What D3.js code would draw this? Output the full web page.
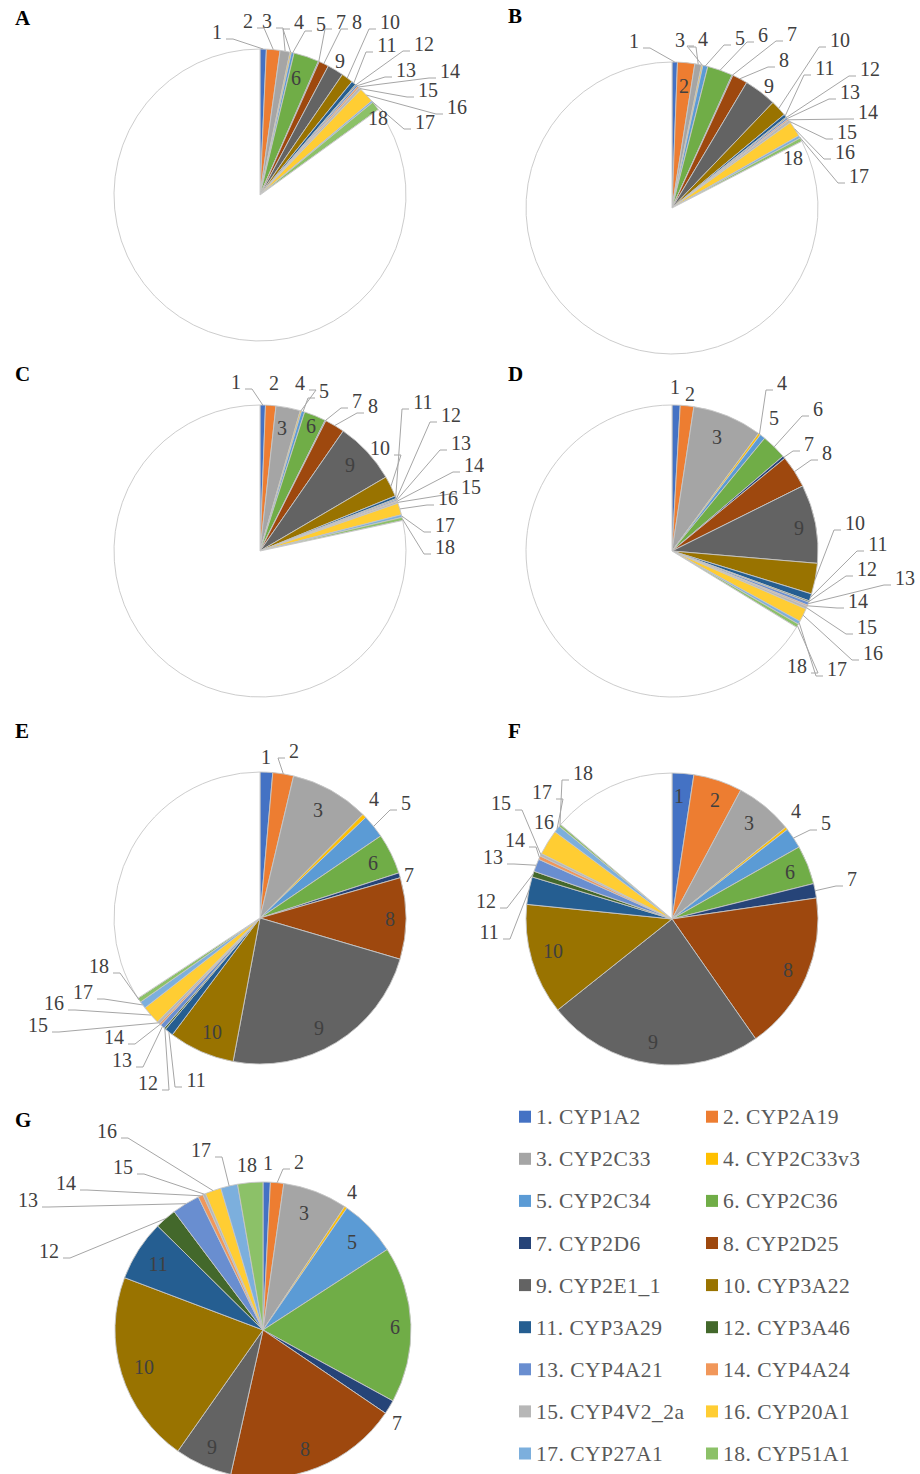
<!DOCTYPE html>
<html>
<head>
<meta charset="utf-8">
<script src="https://cdn.jsdelivr.net/npm/d3@7"></script>
<style>
  body { margin: 0; background: #fff; }
  svg { display: block; }
</style>
</head>
<body>
<svg id="chart" width="920" height="1474"></svg>
<script>
// CYP isoform names, in legend / slice order
const categories = [
  "CYP1A2", "CYP2A19", "CYP2C33", "CYP2C33v3", "CYP2C34", "CYP2C36",
  "CYP2D6", "CYP2D25", "CYP2E1_1", "CYP3A22", "CYP3A29", "CYP3A46",
  "CYP4A21", "CYP4A24", "CYP4V2_2a", "CYP20A1", "CYP27A1", "CYP51A1"
];

const panelNames = ["A", "B", "C", "D", "E", "F", "G"];

// Percentage share of each isoform per panel (remainder is the unlabeled white slice)
const shareA = [0.7, 1.5, 1.1, 0.15, 0.3, 2.8, 0.1, 1.1, 1.8, 1.3, 0.5, 0.1, 0.2, 0.2, 0.3, 1.7, 0.2, 1.0];
const shareB = [0.6, 1.9, 0.75, 0.15, 0.55, 2.8, 0.1, 1.7, 3.6, 1.8, 0.35, 0.1, 0.2, 0.15, 0.3, 1.7, 0.3, 0.4];
const shareC = [0.6, 1.15, 2.7, 0.15, 0.35, 2.4, 0.1, 2.2, 6.9, 2.3, 0.3, 0.1, 0.15, 0.1, 0.2, 1.3, 0.3, 0.35];
const shareD = [0.9, 1.5, 7.7, 0.25, 0.6, 2.8, 0.3, 3.6, 8.7, 3.4, 0.8, 0.15, 0.35, 0.15, 0.3, 1.5, 0.35, 0.4];
const shareE = [1.4, 2.3, 8.75, 0.45, 2.6, 4.5, 0.55, 9.0, 23.4, 7.3, 0.95, 0.2, 0.5, 0.2, 0.3, 2.05, 0.8, 0.5];
const shareF = [2.4, 5.4, 6.4, 0.3, 2.3, 4.3, 1.6, 17.6, 24.0, 12.3, 3.05, 0.65, 1.4, 0.4, 0.3, 2.8, 0.75, 0.25];
const shareG = [0.8, 1.45, 7.05, 0.3, 6.25, 17.1, 1.55, 19.0, 6.25, 21.0, 6.65, 2.35, 3.05, 0.55, 0.3, 1.75, 1.85, 2.75];

const panelShares = [shareA, shareB, shareC, shareD, shareE, shareF, shareG];

// ---- styling / layout ----
const palette = [
  "#4472C4", "#ED7D31", "#A5A5A5", "#FFC000", "#5B9BD5", "#70AD47",
  "#264478", "#9E480E", "#636363", "#997300", "#255E91", "#43682B",
  "#698ED0", "#F1975A", "#B7B7B7", "#FFCD33", "#7CAFDD", "#8CC168"
];

const serif = "'Liberation Serif', 'Times New Roman', Times, serif";

const pieLayout = [
  { cx: 260, cy: 195,  r: 146, lx: 15,  ly: 25 },
  { cx: 672, cy: 208,  r: 146, lx: 508, ly: 23 },
  { cx: 260, cy: 551,  r: 146, lx: 15,  ly: 381 },
  { cx: 672, cy: 551,  r: 146, lx: 508, ly: 381 },
  { cx: 260, cy: 918,  r: 146, lx: 15,  ly: 738 },
  { cx: 672, cy: 919,  r: 146, lx: 508, ly: 738 },
  { cx: 263, cy: 1330, r: 148, lx: 15,  ly: 1127 }
];

// data-label placement relative to each pie centre (label 1..18)
const labelOffsets = [
  [[-43,-163],[-12,-174],[7,-174],[39,-173],[61,-171],[36,-117],[81,-173],[97,-173],[80,-134],
   [130,-173],[127,-150],[164,-151],[146,-125],[190,-124],[168,-105],[197,-88],[165,-73],[118,-77]],
  [[-38,-167],[12,-122],[8,-168],[31,-169],[68,-170],[91,-173],[120,-174],[112,-148],[97,-122],
   [168,-168],[153,-140],[198,-139],[178,-116],[196,-96],[175,-76],[173,-56],[187,-32],[121,-50]],
  [[-24,-169],[14,-168],[22,-123],[40,-168],[64,-160],[51,-125],[97,-150],[113,-145],[90,-86],
   [120,-103],[163,-149],[191,-136],[201,-108],[214,-86],[211,-64],[188,-53],[185,-26],[185,-4]],
  [[3,-164],[18,-157],[45,-114],[110,-168],[102,-133],[146,-142],[137,-107],[155,-98],[127,-23],
   [183,-28],[206,-7],[195,18],[233,27],[186,50],[195,76],[201,102],[165,118],[125,115]],
  [[6,-161],[34,-167],[58,-108],[114,-119],[146,-115],[113,-55],[149,-43],[130,1],[59,110],
   [-48,114],[-64,162],[-112,165],[-138,142],[-146,119],[-222,107],[-206,85],[-177,74],[-161,48]],
  [[7,-123],[43,-119],[77,-96],[124,-108],[154,-96],[118,-47],[180,-40],[116,51],[-19,123],
   [-119,32],[-183,13],[-186,-18],[-179,-62],[-157,-79],[-171,-116],[-128,-97],[-130,-127],[-89,-146]],
  [[5,-167],[36,-168],[41,-117],[89,-138],[89,-88],[132,-3],[134,93],[42,119],[-51,117],
   [-119,37],[-105,-66],[-214,-79],[-235,-130],[-197,-147],[-140,-163],[-156,-199],[-62,-180],[-16,-165]]
];

const labelFont = 20;
const svg = d3.select("#chart");

const pie = d3.pie().sort(null).value(d => d.value);

panelShares.forEach((shares, p) => {
  const L = pieLayout[p];
  const rows = shares.map((v, i) => ({ key: i, name: categories[i], value: v, color: palette[i] }));
  const total = d3.sum(shares);
  const rest = 100 - total;
  if (rest > 0.01) rows.push({ key: -1, name: "other", value: rest, color: "#ffffff" });

  const arcs = pie(rows);
  const arc = d3.arc().innerRadius(0).outerRadius(L.r);

  const g = svg.append("g").attr("transform", `translate(${L.cx},${L.cy})`);

  g.selectAll("path.slice")
    .data(arcs)
    .join("path")
    .attr("class", "slice")
    .attr("d", arc)
    .attr("fill", d => d.data.color)
    .attr("stroke", "#c6c6c6")
    .attr("stroke-width", 0.9)
    .attr("stroke-linejoin", "round");

  // data labels + leader lines
  const labelled = arcs.filter(d => d.data.key >= 0);
  labelled.forEach(d => {
    const i = d.data.key;
    const [ox, oy] = labelOffsets[p][i];
    const text = String(i + 1);
    const w = text.length * labelFont * 0.5;
    const mid = (d.startAngle + d.endAngle) / 2;
    const ax = Math.sin(mid) * L.r;
    const ay = -Math.cos(mid) * L.r;
    const distCentre = Math.hypot(ox, oy);
    const distAnchor = Math.hypot(ox - ax, oy - ay);
    if (distCentre > L.r && distAnchor > 24) {
      const base = oy + 7;
      const side = ox >= ax ? -1 : 1;
      const tx = ox + side * (w / 2 + 4);
      const ex = tx + side * 7;
      g.append("polyline")
        .attr("points", [[ax, ay], [ex, base], [tx, base]].map(q => q.join(",")).join(" "))
        .attr("fill", "none")
        .attr("stroke", "#a6a6a6")
        .attr("stroke-width", 1);
    }
    g.append("text")
      .attr("x", ox)
      .attr("y", oy + 7)
      .attr("text-anchor", "middle")
      .attr("font-family", serif)
      .attr("font-size", labelFont)
      .attr("fill", "#404040")
      .text(text);
  });

  svg.append("text")
    .attr("x", L.lx)
    .attr("y", L.ly)
    .attr("font-family", serif)
    .attr("font-weight", "bold")
    .attr("font-size", 21)
    .attr("fill", "#000")
    .text(panelNames[p]);
});

// legend: two columns
const legend = svg.append("g");
const legendX = [519, 706];
const legendY0 = 1116.7;
const legendStep = 42.1;
categories.forEach((name, i) => {
  const col = i % 2, row = Math.floor(i / 2);
  const x = legendX[col], y = legendY0 + row * legendStep;
  legend.append("rect")
    .attr("x", x).attr("y", y - 6)
    .attr("width", 12).attr("height", 12)
    .attr("fill", palette[i]);
  legend.append("text")
    .attr("x", x + 17)
    .attr("y", y + 7.5)
    .attr("font-family", serif)
    .attr("font-size", 21.5)
    .attr("letter-spacing", 0.5)
    .attr("fill", "#595959")
    .text(`${i + 1}. ${name}`);
});
</script>
</body>
</html>
